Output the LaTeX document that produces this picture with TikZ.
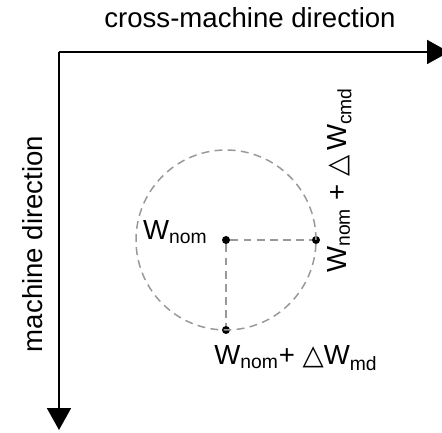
\documentclass[tikz,border=0pt]{standalone}
\usepackage{fontspec}
\setmainfont{Liberation Sans}
\newfontfamily\symfont{DejaVu Sans}
\usepackage{tikz}
\usetikzlibrary{arrows.meta, positioning}
\definecolor{dark}{HTML}{000000}
\definecolor{guidegray}{HTML}{999999}
\newcommand{\lowtxt}[1]{\textsubscript{#1}}
\newcommand{\dtri}{{\symfont\char"25B3}}
\tikzset{
    axisarrow/.style={
        -{Triangle[length=0.44cm, width=0.48cm]}, line width=1.1pt, color=dark
    },
    guideline/.style={
        dash pattern=on 4.5pt off 3pt, line width=0.85pt, color=guidegray
    },
    dotnode/.style={
        circle, fill=dark, inner sep=0pt, minimum size=0.16cm
    },
    axislab/.style={
        font=\fontsize{15.7pt}{18pt}\selectfont, text=dark, inner sep=0pt
    },
}

\begin{document}
\begin{tikzpicture}[x=0.02cm, y=0.02cm]
    \useasboundingbox (0,0) rectangle (442,432);

    % Axes
    \coordinate (origin) at (59,380);
    \coordinate (cmdend) at (449,380);
    \coordinate (mdend) at (59,2);
    \draw[axisarrow] (origin) -- (cmdend);
    \draw[axisarrow] (origin) -- (mdend);

    % Points
    \node[dotnode] (nom) at (226,192) {};
    \node[dotnode] (cmd) at (316,192) {};
    \node[dotnode] (md) at (226,102) {};

    % Circle and guides
    \draw[guideline] (nom.center) circle[radius=90];
    \draw[guideline] (nom) -- (cmd);
    \draw[guideline] (nom) -- (md);

    % Labels
    \node[axislab, anchor=base] (cmdlab) at (250,404) {cross-machine direction};
    \node[axislab, anchor=base, rotate=90] (mdlab) at (42,188) {machine direction};
    \node[axislab, anchor=base east] (nomlab) at (208,192) {W\lowtxt{nom}};
    \node[axislab, anchor=base west, rotate=90] (cmdpt) at (346,159) {W\lowtxt{nom} + \dtri\,W\lowtxt{cmd}};
    \node[axislab, anchor=base west] (mdpt) at (214,67) {W\lowtxt{nom}+ \dtri W\lowtxt{md}};

\end{tikzpicture}
\end{document}
